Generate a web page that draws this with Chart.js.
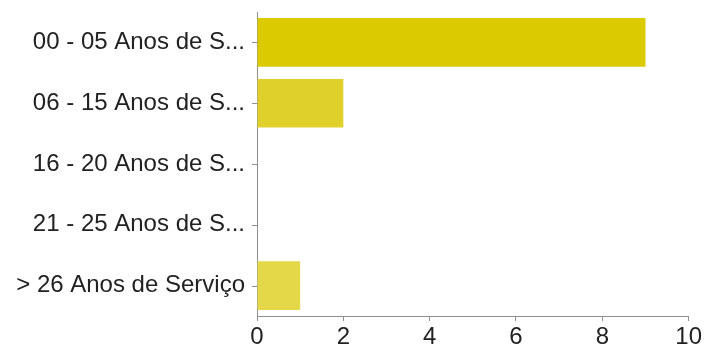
<!DOCTYPE html>
<html>
<head>
<meta charset="utf-8">
<script src="https://cdn.jsdelivr.net/npm/chart.js@4"></script>
<style>
  html, body { margin: 0; padding: 0; background: #fff; }
  #wrap { width: 704px; height: 350px; }
</style>
</head>
<body>
<div id="wrap"><canvas id="barChart" width="704" height="350"></canvas></div>
<script>
const categories = [
  "00 - 05 Anos de Serviço",
  "06 - 15 Anos de Serviço",
  "16 - 20 Anos de Serviço",
  "21 - 25 Anos de Serviço",
  "> 26 Anos de Serviço"
];
const counts = [9, 2, 0, 0, 1];
const barColors = ["#dcca00", "#e0d02b", "#e3d43c", "#e3d43c", "#e4d748"];
const xTicks = [0, 2, 4, 6, 8, 10];

const axisColor = "#8f8f8f";
const textColor = "#222";
const font = { family: "'Liberation Sans', Arial, sans-serif", size: 24 };

// long labels get cut like "00 - 05 Anos de S..."
function shorten(label) {
  return label.length > 20 ? label.slice(0, 17) + "..." : label;
}

// small tick marks on the category axis, centred on each bar row
const categoryTicks = {
  id: "categoryTicks",
  afterDraw(chart) {
    const y = chart.scales.y;
    const left = chart.chartArea.left;
    const c = chart.ctx;
    c.save();
    c.strokeStyle = axisColor;
    c.lineWidth = 1;
    c.beginPath();
    for (let i = 0; i < categories.length; i++) {
      const py = Math.round(y.getPixelForValue(i)) + 0.5;
      c.moveTo(left - 5, py);
      c.lineTo(left, py);
    }
    c.stroke();
    c.restore();
  }
};

const ctx = document.getElementById("barChart").getContext("2d");
new Chart(ctx, {
  type: "bar",
  data: {
    labels: categories,
    datasets: [{
      data: counts,
      backgroundColor: barColors,
      borderWidth: 0,
      barPercentage: 1,
      categoryPercentage: 0.8
    }]
  },
  options: {
    indexAxis: "y",
    responsive: false,
    animation: false,
    layout: { padding: { top: 12, right: 14, left: 0, bottom: 0 } },
    plugins: { legend: { display: false }, tooltip: { enabled: false } },
    scales: {
      x: {
        min: 0,
        max: 10,
        afterBuildTicks: (scale) => { scale.ticks = xTicks.map(v => ({ value: v })); },
        afterFit: (scale) => { scale.height = 34; },
        border: { color: axisColor, width: 1 },
        grid: { drawOnChartArea: false, drawTicks: true, tickLength: 5, tickColor: axisColor },
        ticks: { color: textColor, font: font, padding: 2, maxRotation: 0 }
      },
      y: {
        afterFit: (scale) => {
          scale.width = 257;
          scale.paddingTop = 0;
          scale.paddingBottom = 0;
        },
        border: { color: axisColor, width: 1 },
        grid: { display: true, drawOnChartArea: false, drawTicks: false, tickLength: 5 },
        ticks: {
          color: textColor,
          font: font,
          padding: 12,
          callback: function (value) { return shorten(this.getLabelForValue(value)); }
        }
      }
    }
  },
  plugins: [categoryTicks]
});
</script>
</body>
</html>
